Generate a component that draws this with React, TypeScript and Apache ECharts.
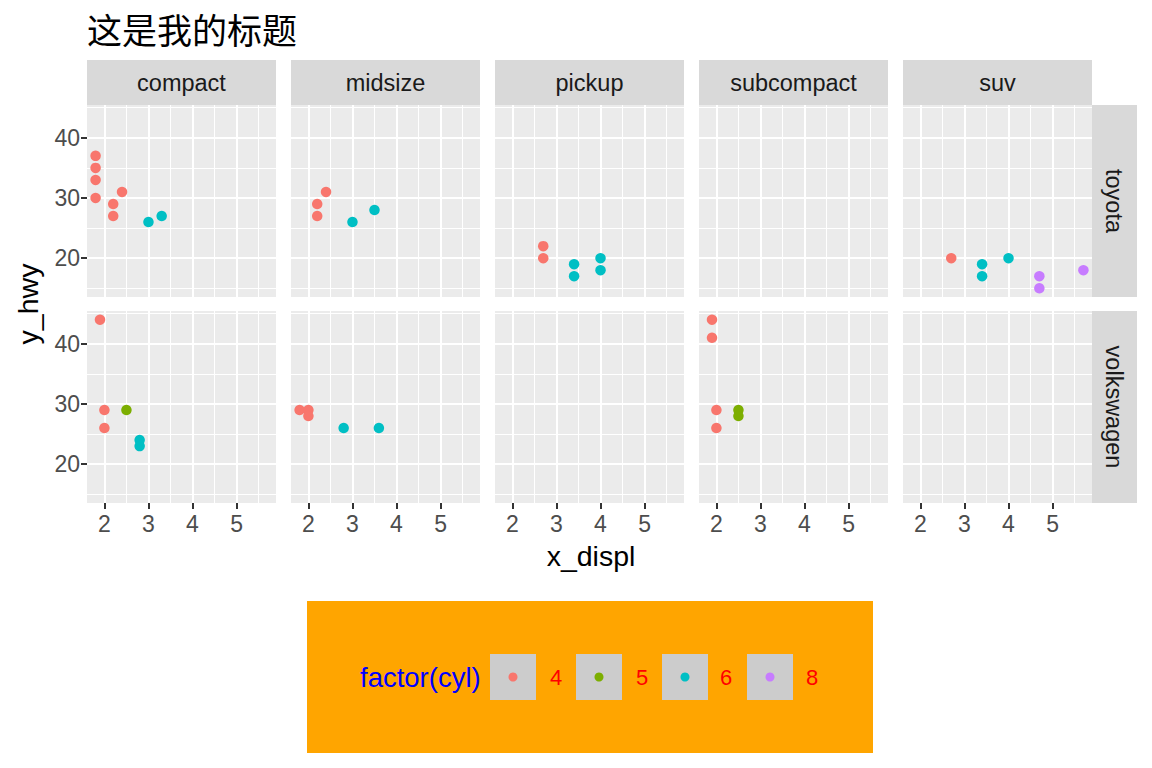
import React, { useEffect, useRef } from "react";
import * as echarts from "echarts";

const chartTitle = "这是我的标题";
const categories = ["compact", "midsize", "pickup", "subcompact", "suv"];
const manufacturers = ["toyota", "volkswagen"];
const cylLevels = [4, 5, 6, 8];
const cylColors = ["#F8766D", "#7CAE00", "#00BFC4", "#C77CFF"];
const xTicks = [2, 3, 4, 5];
const xMinor = [2.5, 3.5, 4.5, 5.5];
const yTicks = [20, 30, 40];
const yMinor = [15, 25, 35, 45];
const xLabel = "x_displ";
const yLabel = "y_hwy";
const legendTitle = "factor(cyl)";

// [displ, hwy, cyl]
const toyotaCompact = [[1.8, 37, 4], [1.8, 35, 4], [1.8, 33, 4], [1.8, 30, 4], [2.4, 31, 4], [2.2, 29, 4], [2.2, 27, 4], [3.0, 26, 6], [3.3, 27, 6]];
const toyotaMidsize = [[2.4, 31, 4], [2.2, 29, 4], [2.2, 27, 4], [3.0, 26, 6], [3.5, 28, 6]];
const toyotaPickup = [[2.7, 22, 4], [2.7, 20, 4], [3.4, 19, 6], [3.4, 17, 6], [4.0, 20, 6], [4.0, 18, 6]];
const toyotaSubcompact: number[][] = [];
const toyotaSuv = [[2.7, 20, 4], [3.4, 19, 6], [3.4, 17, 6], [4.0, 20, 6], [4.7, 17, 8], [4.7, 15, 8], [5.7, 18, 8]];
const vwCompact = [[1.9, 44, 4], [2.0, 29, 4], [2.0, 26, 4], [2.5, 29, 5], [2.8, 24, 6], [2.8, 23, 6]];
const vwMidsize = [[1.8, 29, 4], [2.0, 29, 4], [2.0, 28, 4], [2.8, 26, 6], [3.6, 26, 6]];
const vwPickup: number[][] = [];
const vwSubcompact = [[1.9, 44, 4], [1.9, 41, 4], [2.0, 29, 4], [2.0, 26, 4], [2.5, 29, 5], [2.5, 28, 5]];
const vwSuv: number[][] = [];

const panels = [
  [toyotaCompact, toyotaMidsize, toyotaPickup, toyotaSubcompact, toyotaSuv],
  [vwCompact, vwMidsize, vwPickup, vwSubcompact, vwSuv],
];

// ggplot-style 5% expansion of the data range
const allPts = panels.flat().flat();
const xs = allPts.map((p) => p[0]);
const ys = allPts.map((p) => p[1]);
const xMinD = Math.min(...xs), xMaxD = Math.max(...xs);
const yMinD = Math.min(...ys), yMaxD = Math.max(...ys);
const xMin = xMinD - 0.05 * (xMaxD - xMinD);
const xMax = xMaxD + 0.05 * (xMaxD - xMinD);
const yMin = yMinD - 0.05 * (yMaxD - yMinD);
const yMax = yMaxD + 0.05 * (yMaxD - yMinD);

const FONT = "Liberation Sans";
const colLeft = [87, 291, 495, 699, 903];
const panelW = 189;
const rowTop = [105, 311];
const panelH = 192;

export default function App() {
  const ref = useRef<HTMLDivElement>(null);
  useEffect(() => {
    document.body.style.margin = "0";
    const chart = echarts.init(ref.current!, undefined, { renderer: "svg" });
    const grids: any[] = [];
    const xAxes: any[] = [];
    const yAxes: any[] = [];
    const series: any[] = [];
    const graphics: any[] = [];

    manufacturers.forEach((m, r) => {
      categories.forEach((c, k) => {
        const gi = r * categories.length + k;
        grids.push({
          left: colLeft[k], top: rowTop[r], width: panelW, height: panelH,
          show: true, backgroundColor: "#EBEBEB", borderWidth: 0,
        });
        xAxes.push({
          gridIndex: gi, type: "value", min: xMin, max: xMax,
          axisLine: { show: false }, splitLine: { show: false },
          axisTick: { show: r === 1, customValues: xTicks, length: 6, lineStyle: { color: "#333333", width: 2 } },
          axisLabel: { show: r === 1, customValues: xTicks, color: "#4D4D4D", fontSize: 23, fontFamily: FONT, margin: 9 },
        });
        yAxes.push({
          gridIndex: gi, type: "value", min: yMin, max: yMax,
          axisLine: { show: false }, splitLine: { show: false },
          axisTick: { show: k === 0, customValues: yTicks, length: 6, lineStyle: { color: "#333333", width: 2 } },
          axisLabel: { show: k === 0, customValues: yTicks, color: "#4D4D4D", fontSize: 23, fontFamily: FONT, margin: 7 },
        });
        const gridLines = [
          ...xMinor.map((v) => ({ xAxis: v, lineStyle: { width: 1 } })),
          ...yMinor.map((v) => ({ yAxis: v, lineStyle: { width: 1 } })),
          ...xTicks.map((v) => ({ xAxis: v, lineStyle: { width: 2 } })),
          ...yTicks.map((v) => ({ yAxis: v, lineStyle: { width: 2 } })),
        ];
        series.push({
          type: "scatter", xAxisIndex: gi, yAxisIndex: gi, data: [], silent: true,
          markLine: {
            silent: true, symbol: ["none", "none"], z: 1, animation: false,
            label: { show: false }, emphasis: { disabled: true },
            lineStyle: { color: "#FFFFFF", type: "solid", width: 2 },
            data: gridLines,
          },
        });
        series.push({
          type: "scatter", xAxisIndex: gi, yAxisIndex: gi, z: 3, symbolSize: 10.5, silent: true,
          data: panels[r][k].map((p) => ({
            value: [p[0], p[1]],
            itemStyle: { color: cylColors[cylLevels.indexOf(p[2])], opacity: 1 },
          })),
        });
        if (r === 0) {
          graphics.push({ type: "rect", shape: { x: colLeft[k], y: 60, width: panelW, height: 45 }, style: { fill: "#D9D9D9" } });
          graphics.push({ type: "text", style: { text: c, x: colLeft[k] + panelW / 2, y: 83, align: "center", verticalAlign: "middle", fill: "#1A1A1A", fontSize: 23.5, fontFamily: FONT } });
        }
      });
      graphics.push({ type: "rect", shape: { x: 1092, y: rowTop[r], width: 45, height: panelH }, style: { fill: "#D9D9D9" } });
      graphics.push({ type: "text", x: 1114, y: rowTop[r] + panelH / 2, rotation: -Math.PI / 2, style: { text: m, x: 0, y: 0, align: "center", verticalAlign: "middle", fill: "#1A1A1A", fontSize: 23.5, fontFamily: FONT } });
    });

    graphics.push({ type: "text", style: { text: chartTitle, x: 87, y: 28, align: "left", verticalAlign: "middle", fill: "#000000", fontSize: 35, fontFamily: "Noto Sans CJK SC" } });
    graphics.push({ type: "text", x: 591, y: 556, style: { text: xLabel, x: 0, y: 0, align: "center", verticalAlign: "middle", fill: "#000000", fontSize: 28.5, fontFamily: FONT } });
    graphics.push({ type: "text", x: 28, y: 304, rotation: Math.PI / 2, style: { text: yLabel, x: 0, y: 0, align: "center", verticalAlign: "middle", fill: "#000000", fontSize: 28.5, fontFamily: FONT } });

    // legend
    graphics.push({ type: "rect", shape: { x: 307, y: 601, width: 566, height: 152 }, style: { fill: "#FFA500" } });
    graphics.push({ type: "text", style: { text: legendTitle, x: 360, y: 677, align: "left", verticalAlign: "middle", fill: "#0000FF", fontSize: 27.5, fontFamily: FONT } });
    const keyX = [490, 576, 662, 747];
    const labX = [556, 642, 726, 812];
    cylLevels.forEach((cyl, i) => {
      graphics.push({ type: "rect", shape: { x: keyX[i], y: 654, width: 46, height: 46 }, style: { fill: "#CCCCCC" } });
      graphics.push({ type: "circle", shape: { cx: keyX[i] + 23, cy: 677, r: 4.5 }, style: { fill: cylColors[i] } });
      graphics.push({ type: "text", style: { text: String(cyl), x: labX[i], y: 677, align: "center", verticalAlign: "middle", fill: "#FF0000", fontSize: 22, fontFamily: FONT } });
    });

    chart.setOption({
      animation: false,
      backgroundColor: "#FFFFFF",
      grid: grids,
      xAxis: xAxes,
      yAxis: yAxes,
      series,
      graphic: graphics,
    });
    return () => chart.dispose();
  }, []);
  return <div ref={ref} style={{ width: 1152, height: 768 }} />;
}
